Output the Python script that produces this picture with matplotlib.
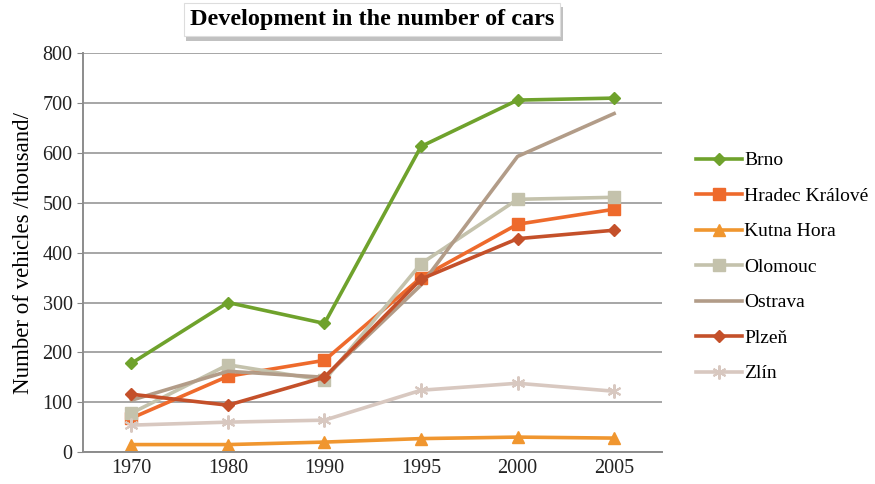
import matplotlib.pyplot as plt
import matplotlib.patheffects as pe

years = ["1970", "1980", "1990", "1995", "2000", "2005"]

brno = [178, 300, 258, 613, 706, 710]
hradec = [68, 152, 184, 350, 457, 487]
kutna_hora = [15, 15, 20, 27, 30, 28]
olomouc = [78, 175, 144, 378, 507, 511]
ostrava = [104, 162, 150, 335, 593, 679]
plzen = [116, 94, 150, 347, 428, 445]
zlin = [54, 60, 64, 124, 138, 122]

plt.rcParams['font.family'] = ['Liberation Serif', 'DejaVu Serif']

fig = plt.figure(figsize=(8.75, 4.84), dpi=100)
ax = fig.add_axes([0.095, 0.066, 0.662, 0.824])

x = range(len(years))
lw = 2.6
ax.plot(x, brno, color="#6fa22c", lw=lw, marker="D", ms=6.5, label="Brno")
ax.plot(x, hradec, color="#ee6a2c", lw=lw, marker="s", ms=8, label="Hradec Králové")
ax.plot(x, kutna_hora, color="#f0962f", lw=lw, marker="^", ms=9, label="Kutna Hora")
ax.plot(x, olomouc, color="#c4c2ac", lw=lw, marker="s", ms=9, label="Olomouc")
ax.plot(x, ostrava, color="#b29c88", lw=lw, label="Ostrava")
ax.plot(x, plzen, color="#c4502a", lw=lw, marker="D", ms=6.5, label="Plzeň")
ax.plot(x, zlin, color="#d8c8c0", lw=lw, marker=(6, 2, 0), ms=10, mew=1.5, label="Zlín")

ax.set_xlim(-0.5, 5.5)
ax.set_ylim(0, 800)
ax.set_yticks(range(0, 801, 100))
ax.set_xticks(list(x))
ax.set_xticklabels(years)
ax.tick_params(labelsize=14.5, colors="#222222", length=4, color="#888888")
ax.tick_params(axis="x", length=0, pad=5)
ax.yaxis.grid(True, color="#a6a6a6", lw=1.4)
ax.set_axisbelow(True)
for s in ["top", "right"]:
    ax.spines[s].set_visible(False)
for s in ["left", "bottom"]:
    ax.spines[s].set_color("#8c8c8c")
    ax.spines[s].set_linewidth(1.4)
ax.set_ylabel("Number of vehicles /thousand/", fontsize=16.5, labelpad=6)

t = fig.text(0.425, 0.959, "Development in the number of cars", ha="center", va="center",
             fontsize=17.5, fontweight="bold",
             bbox=dict(boxstyle="square,pad=0.25", fc="white", ec="#dddddd", lw=0.8))
t.get_bbox_patch().set_path_effects([pe.withSimplePatchShadow(offset=(2, -3), shadow_rgbFace="#999999", alpha=0.6)])

fig.legend(loc="center left", bbox_to_anchor=(0.786, 0.448), frameon=False, fontsize=14,
           handlelength=2.4, handletextpad=0.1, labelspacing=0.92, borderaxespad=0)

fig.savefig("out.png", dpi=100)
